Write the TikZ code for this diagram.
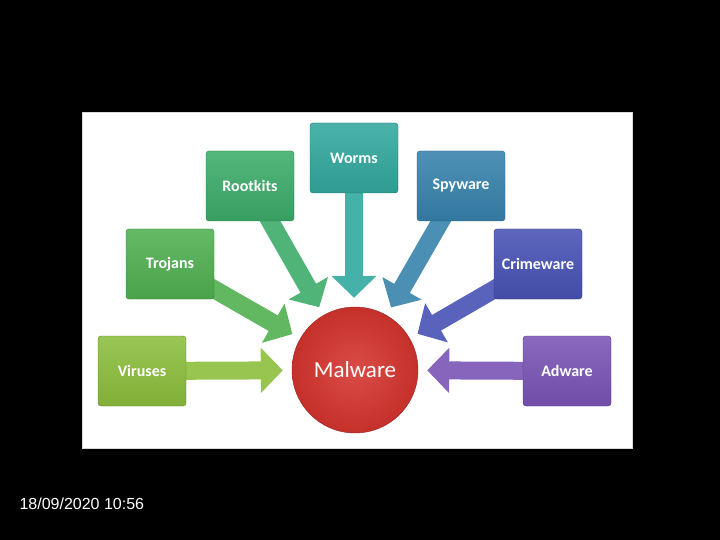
\documentclass[tikz,border=0pt]{standalone}
\usepackage{fontspec}
\setmainfont{Carlito}
\newfontfamily\datefont{Liberation Sans}
\usetikzlibrary{arrows.meta}
\pgfdeclarelayer{panel}
\pgfdeclarelayer{arrows}
\pgfsetlayers{panel,arrows,main}
\definecolor{virusc}{RGB}{140,190,60}
\definecolor{trojanc}{RGB}{80,176,80}
\definecolor{rootc}{RGB}{60,172,105}
\definecolor{wormc}{RGB}{50,168,158}
\definecolor{spyc}{RGB}{55,130,172}
\definecolor{crimec}{RGB}{72,82,180}
\definecolor{adc}{RGB}{122,84,182}
\definecolor{malc}{RGB}{214,52,46}
\tikzset{
  box/.style={draw=#1!70!black, top color=#1!88!white, bottom color=#1!92!black, rounded corners=3pt,
    minimum width=88pt, minimum height=70pt, text=white, font=\bfseries\fontsize{16}{18}\selectfont},
  blockarrow/.style={#1!90!white, line width=18pt, -{Triangle[length=22pt,width=44pt]}, shorten >=9pt},
}
\begin{document}
\begin{tikzpicture}[x=1pt, y=-1pt]
    \begin{pgfonlayer}{panel}
        \fill[black] (0, 0) rectangle (720, 540);
        \filldraw[fill=white, draw=gray!30] (82, 112) rectangle (632, 448);
    \end{pgfonlayer}

    \node (malware) [circle, minimum size=126pt, draw=malc!70!black, inner color=malc!88!white,
        outer color=malc!92!black, text=white, font=\fontsize{23}{28}\selectfont] at (355, 370) {Malware};
    \node (viruses) [box=virusc] at (142, 371) {Viruses};
    \node (trojans) [box=trojanc] at (170, 264) {Trojans};
    \node (rootkits) [box=rootc] at (250, 186) {Rootkits};
    \node (worms) [box=wormc] at (354, 158) {Worms};
    \node (spyware) [box=spyc] at (461, 186) {Spyware};
    \node (crimeware) [box=crimec] at (538, 264) {Crimeware};
    \node (adware) [box=adc] at (567, 371) {Adware};
    \node (date) [anchor=west, text=white, font=\datefont\fontsize{16}{18}\selectfont] at (16, 504) {18/09/2020 10:56};

    \begin{pgfonlayer}{arrows}
        \draw[blockarrow=virusc] (viruses.center) -- (malware);
        \draw[blockarrow=trojanc] (trojans.center) -- (malware);
        \draw[blockarrow=rootc] (rootkits.center) -- (malware);
        \draw[blockarrow=wormc] (worms.center) -- (worms.center |- malware.north);
        \draw[blockarrow=spyc] (spyware.center) -- (malware);
        \draw[blockarrow=crimec] (crimeware.center) -- (malware);
        \draw[blockarrow=adc] (adware.center) -- (malware);
    \end{pgfonlayer}
\end{tikzpicture}
\end{document}
